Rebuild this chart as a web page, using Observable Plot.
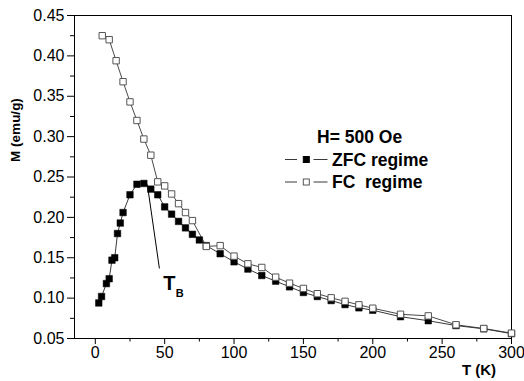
<!DOCTYPE html>
<html>
<head>
<meta charset="utf-8">
<script src="https://cdn.jsdelivr.net/npm/d3@7"></script>
<script src="https://cdn.jsdelivr.net/npm/@observablehq/plot@0.6"></script>
<style>
  html, body { margin: 0; padding: 0; background: #fff; }
  #chart { width: 524px; height: 381px; }
</style>
</head>
<body>
<div id="chart"></div>
<script>
// ZFC regime (filled squares)
const zfcT = [2.5, 4.5, 8, 10, 12, 14, 16, 18, 20, 25, 30, 35, 40, 45, 50, 55, 60, 65, 70, 75, 80, 90, 100, 110, 120, 130, 140, 150, 160, 170, 180, 190, 200, 220, 240, 260, 280, 300];
const zfcM = [0.094, 0.102, 0.118, 0.124, 0.147, 0.150, 0.180, 0.193, 0.206, 0.228, 0.241, 0.242, 0.235, 0.228, 0.213, 0.204, 0.195, 0.187, 0.179, 0.172, 0.165, 0.155, 0.145, 0.136, 0.128, 0.121, 0.114, 0.107, 0.102, 0.097, 0.092, 0.088, 0.085, 0.077, 0.072, 0.066, 0.062, 0.056];
// FC regime (open squares)
const fcT = [5, 10, 15, 20, 25, 30, 35, 40, 45, 50, 55, 60, 65, 70, 80, 90, 100, 110, 120, 130, 140, 150, 160, 170, 180, 190, 200, 220, 240, 260, 280, 300];
const fcM = [0.425, 0.420, 0.394, 0.368, 0.343, 0.320, 0.297, 0.277, 0.244, 0.239, 0.229, 0.217, 0.206, 0.196, 0.164, 0.165, 0.152, 0.1425, 0.138, 0.126, 0.1185, 0.112, 0.1055, 0.1004, 0.096, 0.0917, 0.0875, 0.080, 0.078, 0.067, 0.0624, 0.0566];
// ticks
const xTicks = [0, 50, 100, 150, 200, 250, 300];
const xMinor = [25, 75, 125, 175, 225, 275];
const yTicks = [0.05, 0.10, 0.15, 0.20, 0.25, 0.30, 0.35, 0.40, 0.45];
const yMinor = [0.075, 0.125, 0.175, 0.225, 0.275, 0.325, 0.375, 0.425];
// T_B annotation
const tbLine = [{x1: 37.5, y1: 0.2407, x2: 46.2, y2: 0.1367}];
const tbMain = [{x: 53.3, y: 0.118, label: "T"}];
const tbSub = [{x: 58.0, y: 0.106, label: "B"}];
// legend texts
const legendTitle = "H= 500 Oe";
const seriesNames = ["ZFC regime", "FC  regime"];

const zfc = zfcT.map((t, i) => ({T: t, M: zfcM[i]}));
const fc = fcT.map((t, i) => ({T: t, M: fcM[i]}));

const FONT = "'Liberation Sans', Arial, Helvetica, sans-serif";

const plot = Plot.plot({
  width: 524,
  height: 381,
  marginLeft: 74,
  marginRight: 13,
  marginTop: 15,
  marginBottom: 43,
  style: {fontFamily: FONT, fontSize: "16px", color: "#000", background: "#fff"},
  x: {domain: [-15, 300], label: null},
  y: {domain: [0.05, 0.45], label: null},
  marks: [
    Plot.axisX({ticks: xTicks, tickSize: 6, tickPadding: 2, fontSize: 16, tickFormat: d => String(d), label: null}),
    Plot.axisX({ticks: xMinor, tickSize: 3.5, tickFormat: () => "", label: null}),
    Plot.axisY({ticks: yTicks, tickSize: 7, tickPadding: 3, fontSize: 16, tickFormat: d3.format(".2f"), label: null}),
    Plot.axisY({ticks: yMinor, tickSize: 4, tickFormat: () => "", label: null}),
    Plot.frame({stroke: "#000", strokeWidth: 1}),
    Plot.line(zfc, {x: "T", y: "M", stroke: "#222", strokeWidth: 0.9}),
    Plot.line(fc, {x: "T", y: "M", stroke: "#333", strokeWidth: 0.9}),
    Plot.dot(zfc, {x: "T", y: "M", symbol: "square", r: 3.7, fill: "#000", stroke: "#000", strokeWidth: 0.5}),
    Plot.dot(fc, {x: "T", y: "M", symbol: "square", r: 3.6, fill: "#fff", stroke: "#555", strokeWidth: 1}),
    Plot.link(tbLine, {x1: "x1", y1: "y1", x2: "x2", y2: "y2", stroke: "#000", strokeWidth: 1}),
    Plot.text(tbMain, {x: "x", y: "y", text: "label", fontSize: 20, fontWeight: "bold", fill: "#000", textAnchor: "middle"}),
    Plot.text(tbSub, {x: "x", y: "y", text: "label", fontSize: 11, fontWeight: "bold", fill: "#000", textAnchor: "start"})
  ]
});

document.getElementById("chart").appendChild(plot);

// axis titles and legend
const svg = d3.select(plot);
const g = svg.append("g").attr("font-family", FONT).attr("font-weight", "bold").attr("fill", "#000").attr("text-anchor", "start");

g.append("text")
  .attr("transform", "translate(20,130) rotate(-90)")
  .attr("text-anchor", "middle")
  .attr("font-size", 13.5)
  .text("M (emu/g)");

g.append("text")
  .attr("x", 479).attr("y", 375)
  .attr("text-anchor", "middle")
  .attr("font-size", 15)
  .text("T (K)");

g.append("text")
  .attr("x", 317).attr("y", 142.5)
  .attr("text-anchor", "start")
  .attr("font-size", 17.5)
  .text(legendTitle);

const rows = [
  {y: 159.5, fill: "#000", stroke: "#000", name: seriesNames[0]},
  {y: 182, fill: "#fff", stroke: "#555", name: seriesNames[1]}
];
rows.forEach(r => {
  g.append("line").attr("x1", 285).attr("x2", 297).attr("y1", r.y).attr("y2", r.y).attr("stroke", "#222").attr("stroke-width", 0.9);
  g.append("line").attr("x1", 313.5).attr("x2", 327.5).attr("y1", r.y).attr("y2", r.y).attr("stroke", "#222").attr("stroke-width", 0.9);
  g.append("rect").attr("x", 306.3 - 3).attr("y", r.y - 3).attr("width", 6).attr("height", 6)
    .attr("fill", r.fill).attr("stroke", r.stroke).attr("stroke-width", 1);
  g.append("text")
    .attr("x", 332).attr("y", r.y + 6.3)
    .attr("text-anchor", "start")
    .attr("font-size", 17.5)
    .style("white-space", "pre")
    .attr("xml:space", "preserve")
    .text(r.name);
});
</script>
</body>
</html>
